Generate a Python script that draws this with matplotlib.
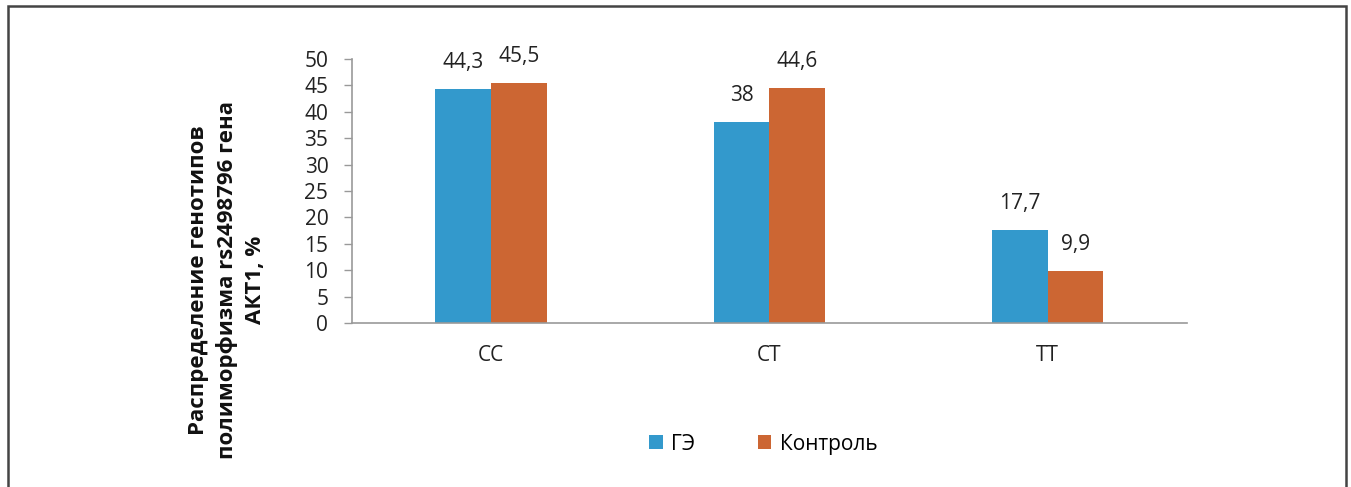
import matplotlib.pyplot as plt
import numpy as np
from matplotlib.patches import Rectangle

plt.rcParams['font.family'] = ['Open Sans', 'DejaVu Sans']

# Data
categories = ["CC", "CT", "TT"]
ge_values = [44.3, 38.0, 17.7]
control_values = [45.5, 44.6, 9.9]
ge_labels = ["44,3", "38", "17,7"]
control_labels = ["45,5", "44,6", "9,9"]
series_names = ["ГЭ", "Контроль"]
y_ticks = [0, 5, 10, 15, 20, 25, 30, 35, 40, 45, 50]

blue = "#3399CC"
orange = "#CC6633"
fs = 15

fig = plt.figure(figsize=(13.51, 4.87), dpi=100)
ax = fig.add_axes([0.2605, 0.3368, 0.618, 0.542])

x = np.arange(len(categories))
w = 0.2
b1 = ax.bar(x - w / 2, ge_values, w, color=blue, label=series_names[0])
b2 = ax.bar(x + w / 2, control_values, w, color=orange, label=series_names[1])

for bars, labels in [(b1, ge_labels), (b2, control_labels)]:
    for rect, lab in zip(bars, labels):
        ax.annotate(lab, (rect.get_x() + rect.get_width() / 2, rect.get_height()),
                    xytext=(0, 19), textcoords="offset points",
                    ha="center", va="center", fontsize=fs, color="#222222")

ax.set_xlim(-0.5, 2.5)
ax.set_ylim(0, 50)
ax.set_yticks(y_ticks)
ax.set_yticklabels([str(t) for t in y_ticks], fontsize=fs, color="#222222")
ax.set_xticks(x)
ax.set_xticklabels(categories, fontsize=fs, color="#222222")
ax.tick_params(axis="x", length=0, pad=16)
ax.tick_params(axis="y", length=6, color="#999999", width=1, pad=11)

for s in ["top", "right"]:
    ax.spines[s].set_visible(False)
for s in ["left", "bottom"]:
    ax.spines[s].set_color("#999999")
    ax.spines[s].set_linewidth(1.2)

fig.text(0.168, 0.425, "Распределение генотипов\nполиморфизма rs2498796 гена\nАКТ1, %",
         rotation=90, ha="center", va="center", fontsize=16, fontweight="bold",
         linespacing=1.4, color="#111111")

leg = fig.legend(loc="center", bbox_to_anchor=(0.565, 0.088), ncol=2, frameon=False,
                 fontsize=fs, handlelength=0.65, handleheight=0.65, handletextpad=0.4,
                 columnspacing=3.0)

# outer chart frame
fig.patches.append(Rectangle((0.006, -0.05), 0.990, 1.038, transform=fig.transFigure,
                             fill=False, edgecolor="#444444", linewidth=1.8))

fig.savefig("out.png", dpi=100)
